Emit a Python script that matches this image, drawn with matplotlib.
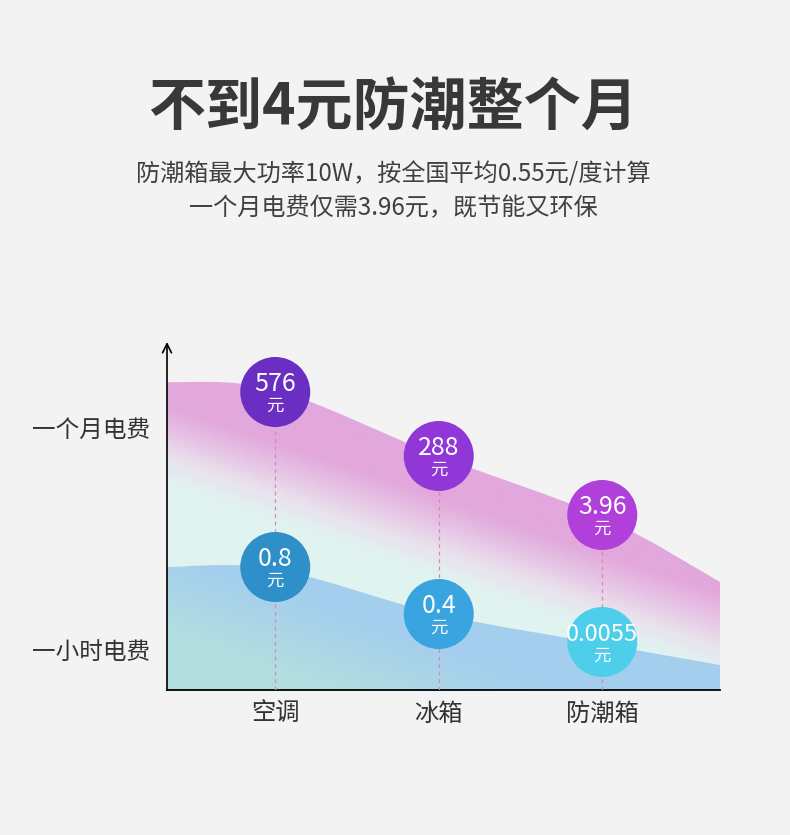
import numpy as np
import matplotlib
matplotlib.use('Agg')
import matplotlib.pyplot as plt
from matplotlib.path import Path
from matplotlib.patches import PathPatch
from matplotlib.colors import LinearSegmentedColormap

plt.rcParams['font.family'] = ['Noto Sans CJK SC', 'DejaVu Sans']

# data
categories = ['空调', '冰箱', '防潮箱']
month_cost = ['576', '288', '3.96']
hour_cost = ['0.8', '0.4', '0.0055']
row_labels = ['一个月电费', '一小时电费']
# bubble heights on the chart's unitless drawing scale
month_level = [298, 234, 175]
hour_level = [123, 76, 48]
# band outlines: left edge, each category, right edge
month_edge = [308, 300, 234, 173, 108]
hour_edge = [123, 121, 76, 46, 25]

BG = '#f3f3f3'
TEXT = '#333333'
MONTH_COLORS = ['#6a2ec2', '#9137d8', '#b040d9']
HOUR_COLORS = ['#2f8fc8', '#3aa4e0', '#4dcfec']


def smooth_path(xs, ys):
    """Catmull-Rom curve through the points, as cubic bezier segments."""
    pts = np.column_stack([xs, ys]).astype(float)
    ext = np.vstack([pts[0], pts, pts[-1]])
    verts = [pts[0]]
    codes = [Path.MOVETO]
    for i in range(len(pts) - 1):
        p0, p1, p2, p3 = ext[i], ext[i + 1], ext[i + 2], ext[i + 3]
        verts += [p1 + (p2 - p0) / 6, p2 - (p3 - p1) / 6, p2]
        codes += [Path.CURVE4] * 3
    return verts, codes


def band_patch(ax, xs, upper, lower):
    v1, c1 = smooth_path(xs, upper)
    if lower is None:
        v2 = [(xs[-1], 0), (xs[0], 0)]
        c2 = [Path.LINETO, Path.LINETO]
    else:
        v2, c2 = smooth_path(xs[::-1], lower[::-1])
        c2 = [Path.LINETO] + c2[1:]
    verts = v1 + v2 + [v1[0]]
    codes = c1 + c2 + [Path.CLOSEPOLY]
    patch = PathPatch(Path(verts, codes), facecolor='none', edgecolor='none')
    ax.add_patch(patch)
    return patch


fig = plt.figure(figsize=(7.9, 8.35), dpi=100, facecolor=BG)
ax = fig.add_axes([167 / 790, 145 / 835, 553 / 790, 348 / 835])
ax.set_facecolor(BG)

x = np.arange(len(categories))
x0, x1 = -0.662, 2.72
ytop = 348
band_x = [x0] + list(x) + [x1]

# gradient fills
u = np.linspace(0, 1, 300)
v = np.linspace(0, ytop, 350)
U, V = np.meshgrid(u, v)
xpx = U * 553

top_cmap = LinearSegmentedColormap.from_list('top', ['#e0f3f0', '#e9e2ed', '#e6c3e4', '#e2a7dc'])
bot_cmap = LinearSegmentedColormap.from_list('bot', ['#b2dde0', '#a4ceee'])

p_top = band_patch(ax, band_x, month_edge, hour_edge)
t_top = np.clip((V + 0.34 * xpx - 205) / 80, 0, 1)
im = ax.imshow(t_top, cmap=top_cmap, origin='lower', extent=[x0, x1, 0, ytop],
               aspect='auto', interpolation='bilinear', zorder=1)
im.set_clip_path(p_top)

p_bot = band_patch(ax, band_x, hour_edge, None)
t_bot = np.clip((V + 0.35 * xpx - 60) / 80, 0, 1)
im2 = ax.imshow(t_bot, cmap=bot_cmap, origin='lower', extent=[x0, x1, 0, ytop],
                aspect='auto', interpolation='bilinear', zorder=1)
im2.set_clip_path(p_bot)

# dashed guide lines
ax.vlines(x, 0, month_level, colors='#d98aa8', linestyles=(0, (3, 3)), lw=0.9, zorder=3)

# bubbles
ax.scatter(x, month_level, s=2540, c=MONTH_COLORS, edgecolors='none', zorder=4)
ax.scatter(x, hour_level, s=2540, c=HOUR_COLORS, edgecolors='none', zorder=4)
for xi, m, h, ml, hl in zip(x, month_cost, hour_cost, month_level, hour_level):
    for val, lvl in ((m, ml), (h, hl)):
        size = 18 if len(val) < 5 else 17
        ax.text(xi, lvl + 1, val, ha='center', va='baseline', fontsize=size,
                color='white', zorder=5)
        ax.text(xi, lvl - 14, '元', ha='center', va='center', fontsize=12.5,
                color='white', zorder=5)

ax.set_xlim(x0, x1)
ax.set_ylim(0, ytop)
ax.set_xticks(x, categories)
ax.set_yticks([262, 40], row_labels)
ax.tick_params(axis='x', length=0, pad=8, labelsize=17.5, colors=TEXT)
ax.tick_params(axis='y', length=0, pad=12, labelsize=17, colors=TEXT)

for side in ('top', 'right', 'left'):
    ax.spines[side].set_visible(False)
ax.spines['bottom'].set_color('black')
ax.spines['bottom'].set_linewidth(1.3)
ax.annotate('', xy=(0, 1), xytext=(0, 0), xycoords='axes fraction',
            arrowprops=dict(arrowstyle='->', lw=1.2, color='black', mutation_scale=16,
                            shrinkA=0, shrinkB=0),
            annotation_clip=False, zorder=6)

# headings
fig.text(0.497, 1 - 108 / 835, '不到4元防潮整个月', ha='center', va='center',
         fontsize=41, fontweight='bold', color='#383838')
fig.text(0.498, 1 - 174 / 835, '防潮箱最大功率10W，按全国平均0.55元/度计算',
         ha='center', va='center', fontsize=17.4, color='#404040')
fig.text(0.498, 1 - 208 / 835, '一个月电费仅需3.96元，既节能又环保',
         ha='center', va='center', fontsize=17.4, color='#404040')

fig.savefig('out.png', dpi=100, facecolor=BG)
